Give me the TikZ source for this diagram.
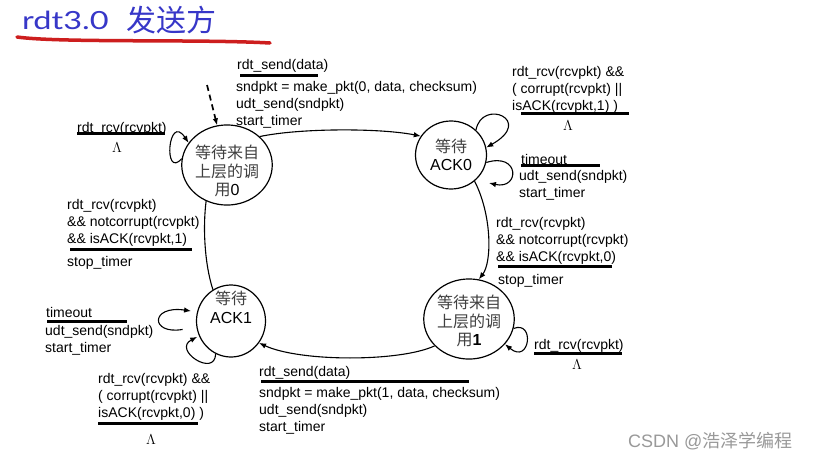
\documentclass[tikz,border=0pt]{standalone}
\usepackage{fontspec}
\setmainfont{Liberation Sans}
\newfontfamily\cjk{Noto Sans CJK SC}
\newfontfamily\titlefont{Lato}
\usetikzlibrary{arrows.meta,shapes.geometric}

% state text, moved up or down inside its ellipse
\newcommand{\stlines}[2]{\raisebox{#1}[\height][\depth]{\begin{tabular}{@{}c@{}}#2\end{tabular}}}
\newcommand{\cn}[1]{{\color{cngray}\cjk #1}}

\begin{document}
\begin{tikzpicture}[x=1pt, y=-1pt, >={Latex[length=7pt,width=5.5pt]},
    state/.style={draw, line width=1.2pt, ellipse, inner sep=0pt,
        minimum width=72pt, minimum height=68pt, font=\fontsize{16}{18.5}\selectfont},
    trans/.style={->, line width=1.1pt},
    lbl/.style={anchor=north west, inner sep=0pt, yshift=10pt, align=left,
        font=\fontsize{14}{17}\selectfont, execute at begin node=\strut},
    rulebar/.style={line width=3pt},
    lam/.style={inner sep=0pt, font=\fontsize{15}{15}\selectfont}]
    \definecolor{titleblue}{RGB}{55,55,200}
    \definecolor{swoosh}{RGB}{205,30,30}
    \colorlet{cngray}{black!75}

    \fill[white] (0,0) rectangle (813,461);
    \useasboundingbox (0,0) rectangle (813,461);

    % --- Title ---
    \node[anchor=base west, inner sep=0pt, text=titleblue, font=\titlefont\fontsize{25}{25}\selectfont]
        (ttl) at (22,29) {\scalebox{1.3}[1]{rdt3.0}};
    \node[anchor=base west, inner sep=0pt, text=titleblue, font=\cjk\fontsize{30}{30}\selectfont]
        (ttlcn) at (126,31) {发送方};
    \draw[swoosh, line width=3.5pt, line cap=round] (17,37) .. controls (60,43) and (200,39) .. (270,43);

    % --- States ---
    \node[state, minimum width=76pt, minimum height=66pt] (w0) at (227,165)
        {\stlines{-8pt}{\cn{等待来自}\\\cn{上层的调}\\\cn{用}0}};
    \node[state, minimum width=71pt, minimum height=68pt] (ack0) at (451,155)
        {\stlines{-2.5pt}{\cn{等待}\\ACK0}};
    \node[state, minimum width=69pt, minimum height=72pt] (ack1) at (231,321)
        {\stlines{11pt}{\cn{等待}\\ACK1}};
    \node[state, minimum width=76pt, minimum height=64pt] (w1) at (469,319)
        {\stlines{-4pt}{\cn{等待来自}\\\cn{上层的调}\\\cn{用}\textbf{1}}};

    % --- Initial arrow ---
    \coordinate (init) at (207,85);
    \draw[trans, line width=1.7pt, dash pattern=on 6pt off 4pt] (init) -- (w0);

    % --- W0 -> ACK0 ---
    \draw[trans] (w0.41) .. controls (300,128) and (380,128) .. (ack0.148);
    \node[lbl] (ev01) at (237,67) {rdt\_send(data)};
    \draw[rulebar] (240,75) -- (318,75);
    \node[lbl] (ac01) at (236,91) {sndpkt = make\_pkt(0, data, checksum)\\udt\_send(sndpkt)\\start\_timer};

    % --- W0 self loop ---
    \draw[trans] (w0.172) .. controls (163,180) and (168,112) .. (w0.150);
    \node[lbl] (ev00) at (77,130) {rdt\_rcv(rcvpkt)};
    \draw[rulebar] (77,133.5) -- (165,133.5);
    \node[lam] (lam00) at (117,148) {$\Lambda$};

    % --- ACK1 -> W0 ---
    \draw[line width=1.1pt] (ack1.120) .. controls (204,262) and (203,225) .. (w0.240);
    \node[lbl] (ev10) at (67,209) {rdt\_rcv(rcvpkt)\\\&\& notcorrupt(rcvpkt)\\\&\& isACK(rcvpkt,1)};
    \draw[rulebar] (70,249.5) -- (192,249.5);
    \node[lbl] (ac10) at (67,264) {stop\_timer};

    % --- ACK0 self loops ---
    \draw[trans] (ack0.45) .. controls (482,98) and (535,120) .. (ack0.12);
    \node[lbl] (ev0a) at (512,76) {rdt\_rcv(rcvpkt) \&\&\\( corrupt(rcvpkt) ||\\isACK(rcvpkt,1) )};
    \draw[rulebar] (521,113) -- (629,113);
    \node[lam] (lam0a) at (568,126) {$\Lambda$};

    \coordinate (ack0t) at (489,183);
    \draw[trans] (ack0.-12) .. controls (520,152) and (520,190) .. (ack0t);
    \node[lbl] (ev0t) at (521,162) {timeout};
    \draw[rulebar] (521,165.5) -- (600,165.5);
    \node[lbl] (ac0t) at (519,180) {udt\_send(sndpkt)\\start\_timer};

    % --- ACK0 -> W1 ---
    \draw[trans] (ack0.-48) .. controls (492,215) and (492,262) .. (w1.76);
    \node[lbl] (ev0w) at (496,227) {rdt\_rcv(rcvpkt)\\\&\& notcorrupt(rcvpkt)\\\&\& isACK(rcvpkt,0)};
    \draw[rulebar] (498,266) -- (612,266);
    \node[lbl] (ac0w) at (498,282) {stop\_timer};

    % --- W1 self loop ---
    \draw[trans] (w1.-12) .. controls (535,320) and (530,365) .. (w1.-35);
    \node[lbl] (ev11) at (534,347) {rdt\_rcv(rcvpkt)};
    \draw[rulebar] (534,353) -- (622,353);
    \node[lam] (lam11) at (577,365) {$\Lambda$};

    % --- W1 -> ACK1 ---
    \draw[trans] (w1.218) .. controls (400,362) and (300,362) .. (ack1.-38);
    \node[lbl] (ev1a) at (259,374) {rdt\_send(data)};
    \draw[rulebar] (261,381) -- (469,381);
    \node[lbl] (ac1a) at (259,397) {sndpkt = make\_pkt(1, data, checksum)\\udt\_send(sndpkt)\\start\_timer};

    % --- ACK1 self loops ---
    \draw[trans, shorten <=14pt, shorten >=6pt] (ack1.190) .. controls (150,335) and (150,305) .. (ack1.165);
    \node[lbl] (ev1t) at (46,315) {timeout};
    \draw[rulebar] (47,321) -- (127,321);
    \node[lbl] (ac1t) at (45,335) {udt\_send(sndpkt)\\start\_timer};

    \draw[trans, shorten >=2pt] (ack1.245) .. controls (215,378) and (172,350) .. (ack1.205);
    \node[lbl] (ev1b) at (98,383) {rdt\_rcv(rcvpkt) \&\&\\( corrupt(rcvpkt) ||\\isACK(rcvpkt,0) )};
    \draw[rulebar] (98,423) -- (198,423);
    \node[lam] (lam1b) at (151,440) {$\Lambda$};

    % --- Watermark ---
    \node[anchor=base west, inner sep=0pt, text=black!40, font=\fontsize{18}{18}\selectfont]
        (wm) at (628,447) {CSDN @{\cjk 浩泽学编程}};
\end{tikzpicture}
\end{document}
